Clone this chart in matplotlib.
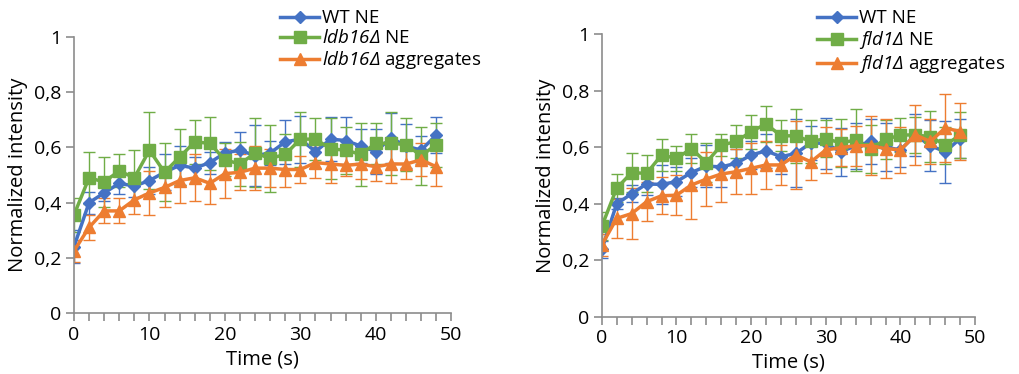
import numpy as np
import matplotlib
matplotlib.use("Agg")
import matplotlib.pyplot as plt
from matplotlib.ticker import MultipleLocator, FuncFormatter

plt.rcParams["font.family"] = ["Open Sans", "DejaVu Sans"]
# math parts of the legend are the italic gene names
plt.rcParams["mathtext.fontset"] = "custom"
plt.rcParams["mathtext.it"] = "Open Sans:italic"
plt.rcParams["mathtext.rm"] = "Open Sans:italic"

# time points (s)
time = list(range(0, 50, 2))

# ---- left panel: ldb16 ----
wt_left = [0.24, 0.40, 0.435, 0.47, 0.46, 0.48, 0.51, 0.535, 0.525, 0.545, 0.58, 0.59, 0.57,
           0.58, 0.62, 0.63, 0.585, 0.63, 0.625, 0.605, 0.585, 0.635, 0.605, 0.59, 0.645]
wt_left_err = [0.06, 0.04, 0.03, 0.04, 0.04, 0.05, 0.065, 0.07, 0.04, 0.04, 0.04, 0.065, 0.11,
               0.045, 0.08, 0.085, 0.06, 0.08, 0.085, 0.06, 0.08, 0.09, 0.08, 0.05, 0.065]
ldb_ne = [0.355, 0.49, 0.475, 0.515, 0.49, 0.59, 0.51, 0.565, 0.62, 0.615, 0.555, 0.54, 0.58,
          0.56, 0.575, 0.63, 0.63, 0.595, 0.59, 0.575, 0.615, 0.615, 0.61, 0.57, 0.61]
ldb_ne_err = [0.06, 0.095, 0.09, 0.06, 0.10, 0.14, 0.105, 0.10, 0.08, 0.095, 0.06, 0.08, 0.125,
              0.12, 0.075, 0.10, 0.075, 0.11, 0.085, 0.115, 0.075, 0.115, 0.095, 0.105, 0.08]
ldb_agg = [0.225, 0.31, 0.37, 0.37, 0.41, 0.435, 0.455, 0.48, 0.49, 0.47, 0.505, 0.51, 0.525,
           0.525, 0.52, 0.52, 0.545, 0.54, 0.535, 0.54, 0.53, 0.54, 0.54, 0.555, 0.53]
ldb_agg_err = [0.04, 0.045, 0.045, 0.045, 0.05, 0.08, 0.07, 0.08, 0.085, 0.075, 0.09, 0.065, 0.08,
               0.07, 0.065, 0.05, 0.055, 0.07, 0.04, 0.055, 0.05, 0.07, 0.055, 0.06, 0.07]

# ---- right panel: fld1 ----
wt_right = [0.238, 0.40, 0.435, 0.47, 0.468, 0.478, 0.51, 0.533, 0.53, 0.543, 0.572, 0.587, 0.566,
            0.578, 0.615, 0.613, 0.584, 0.604, 0.62, 0.60, 0.59, 0.643, 0.605, 0.584, 0.63]
wt_right_err = [0.03, 0.02, 0.03, 0.04, 0.07, 0.05, 0.05, 0.075, 0.07, 0.05, 0.05, 0.06, 0.06,
                0.12, 0.06, 0.09, 0.085, 0.08, 0.08, 0.085, 0.06, 0.075, 0.09, 0.11, 0.07]
fld_ne = [0.32, 0.455, 0.51, 0.507, 0.572, 0.56, 0.595, 0.545, 0.607, 0.62, 0.655, 0.682, 0.64,
          0.64, 0.62, 0.63, 0.615, 0.625, 0.595, 0.627, 0.643, 0.643, 0.637, 0.607, 0.643]
fld_ne_err = [0.05, 0.05, 0.07, 0.065, 0.055, 0.045, 0.05, 0.07, 0.04, 0.06, 0.06, 0.065, 0.055,
              0.095, 0.075, 0.065, 0.085, 0.11, 0.085, 0.07, 0.06, 0.065, 0.09, 0.065, 0.08]
fld_agg = [0.254, 0.348, 0.365, 0.407, 0.428, 0.43, 0.466, 0.487, 0.505, 0.513, 0.525, 0.537, 0.537,
           0.572, 0.548, 0.59, 0.598, 0.605, 0.605, 0.595, 0.59, 0.643, 0.62, 0.668, 0.655]
fld_agg_err = [0.04, 0.07, 0.09, 0.07, 0.065, 0.07, 0.12, 0.095, 0.10, 0.08, 0.09, 0.085, 0.07,
               0.12, 0.065, 0.08, 0.065, 0.07, 0.105, 0.105, 0.08, 0.105, 0.08, 0.12, 0.10]

blue = "#4472C4"
green = "#70AD47"
orange = "#ED7D31"

fig = plt.figure(figsize=(10.2, 3.74), dpi=100)
ax1 = fig.add_axes([0.0725, 0.163, 0.37, 0.738])
ax2 = fig.add_axes([0.590, 0.153, 0.366, 0.756])


def draw(ax, series, labels, legend_pos):
    styles = [(blue, "D", 6.5), (green, "s", 8.5), (orange, "^", 9)]
    for (y, err), label, (c, m, ms) in zip(series, labels, styles):
        ax.errorbar(time, y, yerr=err, color=c, ecolor=c, elinewidth=1, capsize=4.5,
                    capthick=1, marker=m, markersize=ms, linewidth=2.5, label=label)
    ax.set_xlim(0, 50)
    ax.set_ylim(0, 1)
    ax.xaxis.set_major_locator(MultipleLocator(10))
    ax.xaxis.set_minor_locator(MultipleLocator(2))
    ax.yaxis.set_major_locator(MultipleLocator(0.2))
    ax.yaxis.set_major_formatter(FuncFormatter(lambda v, p: f"{v:g}".replace(".", ",")))
    for s in ["top", "right"]:
        ax.spines[s].set_visible(False)
    for s in ["left", "bottom"]:
        ax.spines[s].set_color("#8c8c8c")
        ax.spines[s].set_linewidth(1.2)
    ax.tick_params(which="both", direction="out", length=6, color="#8c8c8c", width=1.2,
                   labelsize=14, pad=3)
    ax.set_xlabel("Time (s)", fontsize=14.5, labelpad=4)
    ax.set_ylabel("Normalized intensity", fontsize=14.5, labelpad=4)
    handles, labs = ax.get_legend_handles_labels()
    handles = [h[0] for h in handles]
    fig.legend(handles, labs, loc="upper left", bbox_to_anchor=legend_pos, frameon=False,
               fontsize=13.5, handlelength=2.1, handletextpad=0.15, labelspacing=0.1,
               borderaxespad=0, borderpad=0)


draw(ax1, [(wt_left, wt_left_err), (ldb_ne, ldb_ne_err), (ldb_agg, ldb_agg_err)],
     ["WT NE", r"$ldb16Δ$ NE", r"$ldb16Δ$ aggregates"], (0.2745, 0.975))
draw(ax2, [(wt_right, wt_right_err), (fld_ne, fld_ne_err), (fld_agg, fld_agg_err)],
     ["WT NE", r"$fld1Δ$ NE", r"$fld1Δ$ aggregates"], (0.801, 0.975))

fig.savefig("out.png", dpi=100)
